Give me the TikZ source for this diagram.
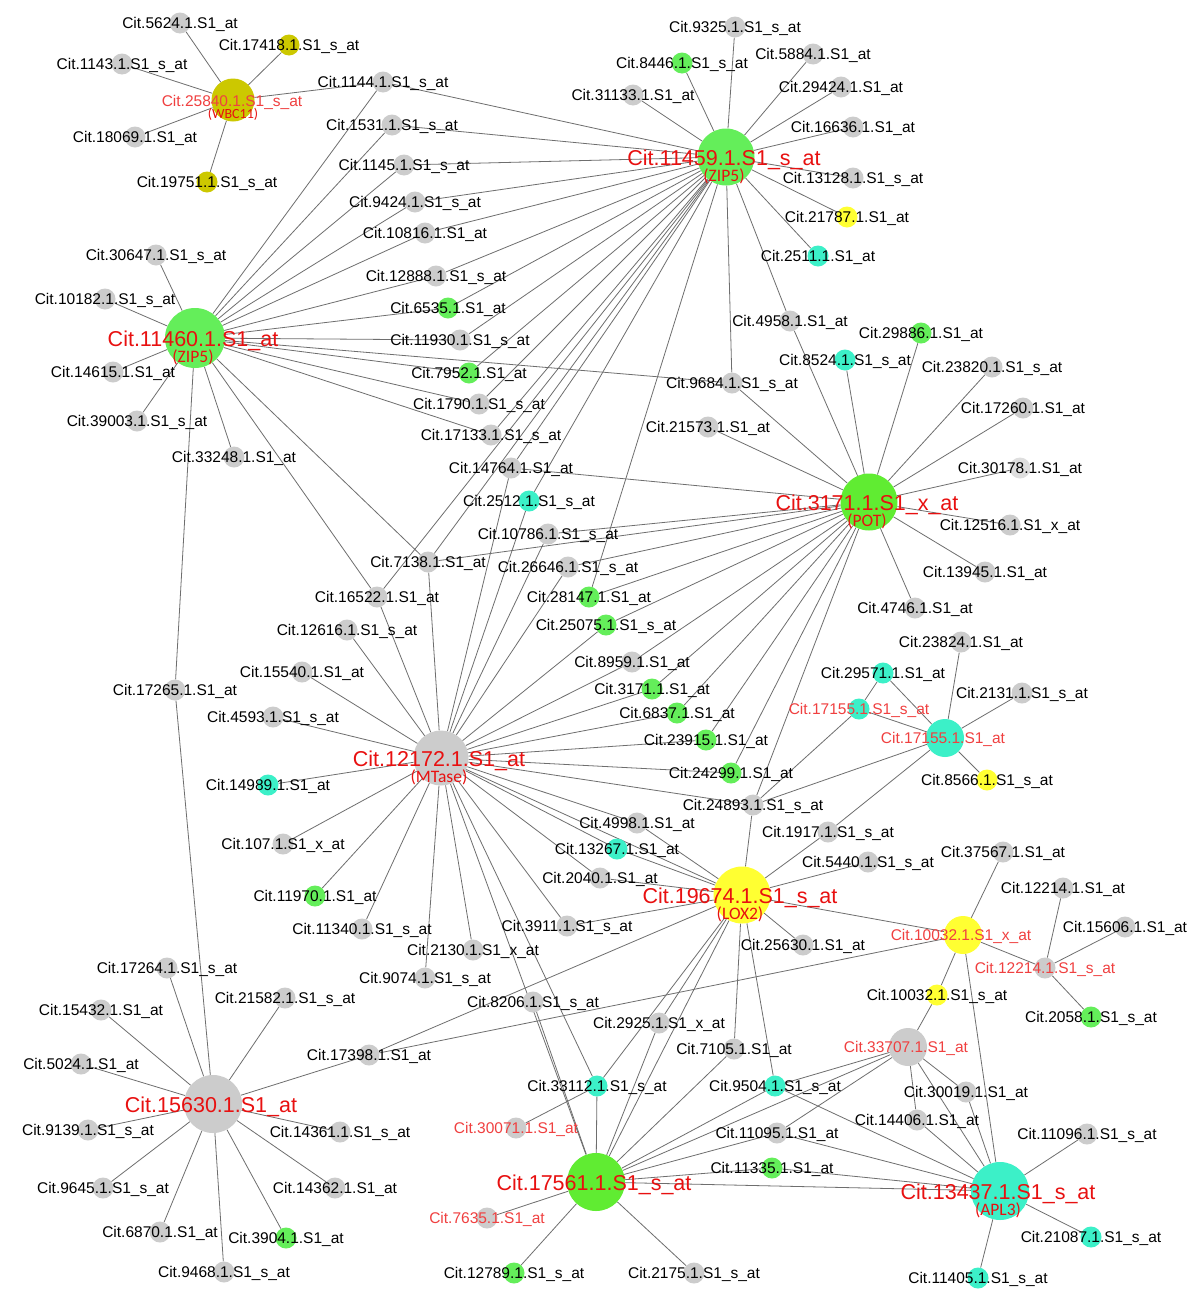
\documentclass[tikz,border=0pt]{standalone}
\usepackage{fontspec}
\setmainfont{Liberation Sans}
\newfontfamily\subfont{Carlito}
\pgfdeclarelayer{bgfill}\pgfdeclarelayer{bg}\pgfdeclarelayer{fg}\pgfsetlayers{bgfill,bg,main,fg}
\definecolor{cgray}{RGB}{204,204,204}
\definecolor{cpale}{RGB}{222,222,222}
\definecolor{cgreen}{RGB}{100,238,90}
\definecolor{clime}{RGB}{96,236,50}
\definecolor{ccyan}{RGB}{60,240,200}
\definecolor{cyel}{RGB}{255,255,50}
\definecolor{colive}{RGB}{204,200,0}
\definecolor{hred}{RGB}{232,16,16}
\definecolor{lred}{RGB}{240,64,64}
\definecolor{cedge}{RGB}{110,110,110}
\tikzset{
 sn/.style={circle,inner sep=0,minimum size=21,draw=none},
 gn/.style={sn,fill=cgray}, grn/.style={sn,fill=cgreen}, cyn/.style={sn,fill=ccyan},
 yel/.style={sn,fill=cyel}, olv/.style={sn,fill=colive}, pal/.style={sn,fill=cpale},
 lbl/.style={font=\fontsize{15.5}{16}\selectfont,inner sep=0,anchor=base,text=black},
 rlbl/.style={lbl,text=lred},
 hlbl/.style={font=\fontsize{21.5}{22}\selectfont,inner sep=0,anchor=base,text=hred},
 slbl/.style={font=\subfont\fontsize{17.5}{18}\selectfont,inner sep=0,anchor=base,text=hred},
 wlbl/.style={font=\subfont\fontsize{14}{14}\selectfont,inner sep=0,anchor=base,text=hred},
 edge/.style={draw=cedge,line width=0.8pt}
}
\newcommand\cn[5]{\node[#4] (#1) at (#2,#3) {};
 \begin{pgfonlayer}{fg}\node[lbl] (#1t) at ({#2},{#3+5.5}) {#5};\end{pgfonlayer}}
\newcommand\rn[5]{\node[#4] (#1) at (#2,#3) {};
 \begin{pgfonlayer}{fg}\node[rlbl] (#1t) at ({#2},{#3+5.5}) {#5};\end{pgfonlayer}}
\newcommand\hn[7]{\node[#4,minimum size=#5] (#1) at (#2,#3) {};
 \begin{pgfonlayer}{fg}\node[hlbl] (#1t) at ({#2-2},{#3+8.5}) {#6};
 \node[slbl] (#1s) at ({#2-2},{#3+24.5}) {#7};\end{pgfonlayer}}
\begin{document}
\begin{tikzpicture}[x=1pt,y=-1pt]
\begin{pgfonlayer}{bgfill}
\fill[white] (0,0) rectangle (1200,1301);
\end{pgfonlayer}
\useasboundingbox (0,0) rectangle (1200,1301);
% hubs
\hn{hZ1}{726}{157}{grn}{57}{Cit.11459.1.S1\_s\_at}{(ZIP5)}
\hn{hZ2}{195}{338}{grn}{60}{Cit.11460.1.S1\_at}{(ZIP5)}
\hn{hPOT}{869}{502}{sn,fill=clime}{57}{Cit.3171.1.S1\_x\_at}{(POT)}
\hn{hMT}{441}{758}{gn}{55}{Cit.12172.1.S1\_at}{(MTase)}
\hn{hLOX}{742}{895}{yel}{57}{Cit.19674.1.S1\_s\_at}{(LOX2)}
\hn{h15630}{213}{1104}{gn}{58}{Cit.15630.1.S1\_at}{}
\hn{h17561}{596}{1182}{sn,fill=clime}{58}{Cit.17561.1.S1\_s\_at}{}
\hn{h13437}{1000}{1191}{cyn}{58}{Cit.13437.1.S1\_s\_at}{(APL3)}
% medium
\node[olv,minimum size=43] (hWBC) at (233,100) {};
\begin{pgfonlayer}{fg}
\node[rlbl] (hWBCt) at (232,106) {Cit.25840.1.S1\_s\_at};
\node[wlbl] (hWBCs) at (233,118) {(WBC11)};
\end{pgfonlayer}
\node[cyn,minimum size=38] (h17155) at (945,738) {};
\begin{pgfonlayer}{fg}\node[rlbl] (h17155t) at (943,743.5) {Cit.17155.1.S1\_at};\end{pgfonlayer}
\node[yel,minimum size=38] (h10032) at (963,935) {};
\begin{pgfonlayer}{fg}\node[rlbl] (h10032t) at (961,940.5) {Cit.10032.1.S1\_x\_at};\end{pgfonlayer}
\node[gn,minimum size=38] (h33707) at (908,1047) {};
\begin{pgfonlayer}{fg}\node[rlbl] (h33707t) at (906,1052.5) {Cit.33707.1.S1\_at};\end{pgfonlayer}
% small nodes
\cn{n5624}{180}{23}{gn}{Cit.5624.1.S1\_at}
\cn{n17418}{289}{45}{olv}{Cit.17418.1.S1\_s\_at}
\cn{n1143}{122}{64}{gn}{Cit.1143.1.S1\_s\_at}
\cn{n18069}{135}{137}{gn}{Cit.18069.1.S1\_at}
\cn{n19751}{207}{182}{olv}{Cit.19751.1.S1\_s\_at}
\cn{n1144}{383}{82}{gn}{Cit.1144.1.S1\_s\_at}
\cn{n1531}{392}{125}{gn}{Cit.1531.1.S1\_s\_at}
\cn{n1145}{404}{165}{gn}{Cit.1145.1.S1\_s\_at}
\cn{n9424}{415}{202}{gn}{Cit.9424.1.S1\_s\_at}
\cn{n10816}{425}{233}{gn}{Cit.10816.1.S1\_at}
\cn{n12888}{436}{276}{gn}{Cit.12888.1.S1\_s\_at}
\cn{n6535}{448}{308}{grn}{Cit.6535.1.S1\_at}
\cn{n11930}{460}{340}{gn}{Cit.11930.1.S1\_s\_at}
\cn{n7952}{469}{373}{grn}{Cit.7952.1.S1\_at}
\cn{n1790}{479}{404}{gn}{Cit.1790.1.S1\_s\_at}
\cn{n17133}{491}{435}{gn}{Cit.17133.1.S1\_s\_at}
\cn{n14764}{511}{468}{gn}{Cit.14764.1.S1\_at}
\cn{n2512}{529}{501}{cyn}{Cit.2512.1.S1\_s\_at}
\cn{n10786}{548}{534}{gn}{Cit.10786.1.S1\_s\_at}
\cn{n26646}{568}{567}{gn}{Cit.26646.1.S1\_s\_at}
\cn{n28147}{589}{597}{grn}{Cit.28147.1.S1\_at}
\cn{n25075}{606}{625}{grn}{Cit.25075.1.S1\_s\_at}
\cn{n7138}{428}{562}{gn}{Cit.7138.1.S1\_at}
\cn{n16522}{377}{597}{gn}{Cit.16522.1.S1\_at}
\cn{n12616}{347}{630}{gn}{Cit.12616.1.S1\_s\_at}
\cn{n30647}{156}{255}{gn}{Cit.30647.1.S1\_s\_at}
\cn{n10182}{105}{299}{gn}{Cit.10182.1.S1\_s\_at}
\cn{n14615}{113}{372}{gn}{Cit.14615.1.S1\_at}
\cn{n39003}{137}{421}{gn}{Cit.39003.1.S1\_s\_at}
\cn{n33248}{234}{457}{gn}{Cit.33248.1.S1\_at}
\cn{n17265}{175}{690}{gn}{Cit.17265.1.S1\_at}
\cn{n9325}{735}{27}{gn}{Cit.9325.1.S1\_s\_at}
\cn{n8446}{682}{63}{grn}{Cit.8446.1.S1\_s\_at}
\cn{n31133}{633}{95}{gn}{Cit.31133.1.S1\_at}
\cn{n5884}{813}{54}{gn}{Cit.5884.1.S1\_at}
\cn{n29424}{841}{87}{gn}{Cit.29424.1.S1\_at}
\cn{n16636}{853}{127}{gn}{Cit.16636.1.S1\_at}
\cn{n13128}{853}{178}{gn}{Cit.13128.1.S1\_s\_at}
\cn{n21787}{847}{217}{yel}{Cit.21787.1.S1\_at}
\cn{n2511}{818}{256}{cyn}{Cit.2511.1.S1\_at}
\cn{n4958}{790}{321}{gn}{Cit.4958.1.S1\_at}
\cn{n9684}{732}{383}{gn}{Cit.9684.1.S1\_s\_at}
\cn{n21573}{708}{427}{gn}{Cit.21573.1.S1\_at}
\cn{n29886}{921}{333}{grn}{Cit.29886.1.S1\_at}
\cn{n8524}{845}{360}{cyn}{Cit.8524.1.S1\_s\_at}
\cn{n23820}{992}{367}{gn}{Cit.23820.1.S1\_s\_at}
\cn{n17260}{1023}{408}{gn}{Cit.17260.1.S1\_at}
\cn{n30178}{1020}{468}{pal}{Cit.30178.1.S1\_at}
\cn{n12516}{1010}{525}{gn}{Cit.12516.1.S1\_x\_at}
\cn{n13945}{985}{572}{gn}{Cit.13945.1.S1\_at}
\cn{n4746}{915}{608}{gn}{Cit.4746.1.S1\_at}
\cn{n23824}{961}{642}{gn}{Cit.23824.1.S1\_at}
\cn{n29571}{883}{673}{cyn}{Cit.29571.1.S1\_at}
\rn{n17155s}{859}{709}{cyn}{Cit.17155.1.S1\_s\_at}
\cn{n2131}{1022}{693}{gn}{Cit.2131.1.S1\_s\_at}
\cn{n8566}{987}{780}{yel}{Cit.8566.1.S1\_s\_at}
\cn{n1917}{828}{832}{gn}{Cit.1917.1.S1\_s\_at}
\cn{n5440}{868}{862}{gn}{Cit.5440.1.S1\_s\_at}
\cn{n37567}{1003}{852}{gn}{Cit.37567.1.S1\_at}
\cn{n12214a}{1063}{888}{gn}{Cit.12214.1.S1\_at}
\cn{n15606}{1125}{927}{gn}{Cit.15606.1.S1\_at}
\rn{n12214s}{1045}{968}{gn}{Cit.12214.1.S1\_s\_at}
\cn{n2058}{1091}{1017}{grn}{Cit.2058.1.S1\_s\_at}
\cn{n10032s}{937}{995}{yel}{Cit.10032.1.S1\_s\_at}
\cn{n30019}{966}{1092}{gn}{Cit.30019.1.S1\_at}
\cn{n14406}{917}{1120}{gn}{Cit.14406.1.S1\_at}
\cn{n11096}{1087}{1134}{gn}{Cit.11096.1.S1\_s\_at}
\cn{n21087}{1091}{1237}{cyn}{Cit.21087.1.S1\_s\_at}
\cn{n11405}{978}{1278}{cyn}{Cit.11405.1.S1\_s\_at}
\cn{n8959}{632}{662}{gn}{Cit.8959.1.S1\_at}
\cn{n3171b}{652}{689}{grn}{Cit.3171.1.S1\_at}
\cn{n6837}{677}{713}{grn}{Cit.6837.1.S1\_at}
\cn{n23915}{706}{740}{grn}{Cit.23915.1.S1\_at}
\cn{n24299}{731}{773}{grn}{Cit.24299.1.S1\_at}
\cn{n24893}{753}{805}{gn}{Cit.24893.1.S1\_s\_at}
\cn{n4998}{637}{823}{gn}{Cit.4998.1.S1\_at}
\cn{n13267}{617}{849}{cyn}{Cit.13267.1.S1\_at}
\cn{n2040}{600}{878}{gn}{Cit.2040.1.S1\_at}
\cn{n3911}{567}{926}{gn}{Cit.3911.1.S1\_s\_at}
\cn{n2130}{473}{950}{gn}{Cit.2130.1.S1\_x\_at}
\cn{n9074}{425}{978}{gn}{Cit.9074.1.S1\_s\_at}
\cn{n11340}{362}{929}{gn}{Cit.11340.1.S1\_s\_at}
\cn{n25630}{803}{945}{gn}{Cit.25630.1.S1\_at}
\cn{n15540}{302}{672}{gn}{Cit.15540.1.S1\_at}
\cn{n4593}{273}{717}{gn}{Cit.4593.1.S1\_s\_at}
\cn{n14989}{268}{785}{cyn}{Cit.14989.1.S1\_at}
\cn{n107}{283}{844}{gn}{Cit.107.1.S1\_x\_at}
\cn{n11970}{315}{896}{grn}{Cit.11970.1.S1\_at}
\cn{n17264}{167}{968}{gn}{Cit.17264.1.S1\_s\_at}
\cn{n15432}{101}{1010}{gn}{Cit.15432.1.S1\_at}
\cn{n21582}{285}{998}{gn}{Cit.21582.1.S1\_s\_at}
\cn{n5024}{81}{1064}{gn}{Cit.5024.1.S1\_at}
\cn{n17398}{369}{1055}{gn}{Cit.17398.1.S1\_at}
\cn{n9139}{88}{1130}{gn}{Cit.9139.1.S1\_s\_at}
\cn{n14361}{340}{1132}{gn}{Cit.14361.1.S1\_s\_at}
\cn{n9645}{103}{1188}{gn}{Cit.9645.1.S1\_s\_at}
\cn{n14362}{335}{1188}{gn}{Cit.14362.1.S1\_at}
\cn{n6870}{160}{1232}{gn}{Cit.6870.1.S1\_at}
\cn{n3904}{286}{1238}{grn}{Cit.3904.1.S1\_at}
\cn{n9468}{224}{1272}{gn}{Cit.9468.1.S1\_s\_at}
\cn{n8206}{533}{1002}{gn}{Cit.8206.1.S1\_s\_at}
\cn{n2925}{659}{1023}{gn}{Cit.2925.1.S1\_x\_at}
\cn{n7105}{734}{1049}{gn}{Cit.7105.1.S1\_at}
\cn{n33112}{597}{1086}{cyn}{Cit.33112.1.S1\_s\_at}
\cn{n9504}{775}{1086}{cyn}{Cit.9504.1.S1\_s\_at}
\rn{n30071}{516}{1128}{gn}{Cit.30071.1.S1\_at}
\cn{n11095}{777}{1133}{gn}{Cit.11095.1.S1\_at}
\cn{n11335}{772}{1168}{grn}{Cit.11335.1.S1\_at}
\rn{n7635}{487}{1218}{gn}{Cit.7635.1.S1\_at}
\cn{n12789}{514}{1273}{grn}{Cit.12789.1.S1\_s\_at}
\cn{n2175}{694}{1273}{gn}{Cit.2175.1.S1\_s\_at}
% edges
\begin{pgfonlayer}{bg}
\foreach \b in {n5624,n17418,n1143,n18069,n19751,n1144} \draw[edge] (hWBC) -- (\b);
\foreach \b in {n1144,n1531,n1145,n9424,n10816,n12888,n6535,n11930,n7952,n1790,n17133}
  {\draw[edge] (hZ2) -- (\b); \draw[edge] (hZ1) -- (\b);}
\foreach \b in {n30647,n10182,n14615,n39003,n33248,n17265,n16522,n7138,n9684} \draw[edge] (hZ2) -- (\b);
\foreach \b in {n9325,n8446,n31133,n5884,n29424,n16636,n13128,n21787,n2511,n4958,n9684,n28147,n16522,n2512,n14764,n7138}
  \draw[edge] (hZ1) -- (\b);
\foreach \b in {n4958,n8524,n29886,n23820,n17260,n30178,n12516,n13945,n4746,n9684,n21573,n14764,n10786,n7138,n26646,n28147,n25075,n8959,n3171b,n6837,n23915,n24299,n24893}
  \draw[edge] (hPOT) -- (\b);
\foreach \b in {n12616,n16522,n7138,n15540,n4593,n14989,n107,n11970,n11340,n2130,n9074,n3911,n2040,n13267,n4998,n24893,n24299,n23915,n6837,n3171b,n8959,n25075,n26646,n10786,n2512,n14764,hLOX,n33112,h17561}
  \draw[edge] (hMT) -- (\b);
\foreach \b in {n17264,n15432,n21582,n5024,n17398,n9139,n14361,n9645,n14362,n6870,n3904,n9468,n17265}
  \draw[edge] (h15630) -- (\b);
\foreach \b in {n24893,n1917,n5440,h10032,n25630,n4998,n13267,n2040,n3911,n17398,n7105,n2925,n33112,h17561,n9504}
  \draw[edge] (hLOX) -- (\b);
\foreach \b in {n29571,n17155s,n2131,n8566,n23824,n1917,n24893} \draw[edge] (h17155) -- (\b);
\draw[edge] (n29571) -- (n17155s);
\draw[edge] (n17155s) -- (n24893);
\foreach \b in {n37567,n12214s,n10032s,h13437,n17398} \draw[edge] (h10032) -- (\b);
\foreach \b in {n12214a,n15606,n2058} \draw[edge] (n12214s) -- (\b);
\foreach \b in {n10032s,n30019,n14406,h13437,h17561,n9504,n11095} \draw[edge] (h33707) -- (\b);
\foreach \b in {n11096,n21087,n11405,n30019,n14406,h17561,n9504,n11095,n11335} \draw[edge] (h13437) -- (\b);
\foreach \b in {n12789,n2175,n7635,n33112,n8206,n11335,n11095,n9504,n7105,n2925} \draw[edge] (h17561) -- (\b);
\draw[edge] (n30071) -- (n33112);
\end{pgfonlayer}
\end{tikzpicture}
\end{document}
